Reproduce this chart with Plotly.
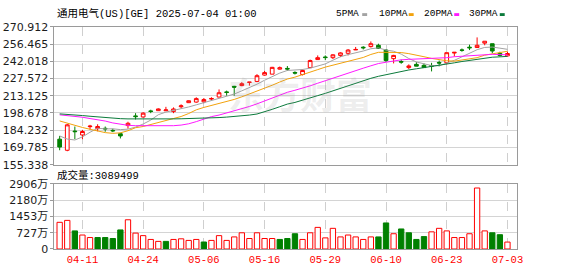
import plotly.graph_objects as go

# ---------------- data ----------------
dates = ["04-08", "04-09", "04-10", "04-11", "04-14", "04-15", "04-16", "04-17", "04-21", "04-22",
         "04-23", "04-24", "04-25", "04-28", "04-29", "04-30", "05-01", "05-02", "05-05", "05-06",
         "05-07", "05-08", "05-09", "05-12", "05-13", "05-14", "05-15", "05-16", "05-19", "05-20",
         "05-21", "05-22", "05-23", "05-27", "05-28", "05-29", "05-30", "06-02", "06-03", "06-04",
         "06-05", "06-06", "06-09", "06-10", "06-11", "06-12", "06-13", "06-16", "06-17", "06-18",
         "06-20", "06-23", "06-24", "06-25", "06-26", "06-27", "06-30", "07-01", "07-02", "07-03"]

opens = [176.7, 167.4, 183.5, 180.2, 187.2, 185.5, 185.8, 184.1, 181.3, 188.1,
         196.2, 195.3, 200.4, 200.6, 200.5, 199.8, 203.9, 207.3, 207.8, 208.0,
         210.3, 212.0, 216.3, 221.0, 221.6, 224.3, 225.1, 230.4, 231.2, 235.4,
         236.0, 232.6, 230.9, 236.7, 243.4, 245.6, 245.0, 246.9, 248.7, 251.5,
         253.8, 254.3, 255.4, 251.4, 244.2, 241.8, 236.7, 239.4, 238.6, 238.4,
         241.0, 240.7, 248.9, 251.5, 253.8, 253.5, 257.2, 256.7, 248.7, 246.5]
highs = [179.4, 189.5, 187.3, 184.5, 188.7, 189.2, 187.3, 185.5, 182.1, 191.3,
         198.5, 199.3, 201.4, 202.5, 203.8, 203.3, 205.9, 209.2, 211.8, 211.2,
         211.8, 218.4, 217.4, 221.4, 224.5, 224.6, 231.2, 233.9, 237.3, 237.6,
         238.0, 233.6, 235.1, 243.4, 246.9, 246.9, 247.9, 249.5, 252.2, 254.0,
         254.6, 258.6, 256.7, 252.2, 247.4, 243.4, 239.4, 241.3, 240.2, 240.7,
         242.6, 249.2, 249.5, 252.7, 255.9, 262.0, 258.8, 256.7, 250.0, 250.0]
lows = [167.4, 166.6, 176.7, 176.7, 184.7, 183.3, 182.9, 182.6, 177.3, 185.5,
        193.2, 194.8, 198.5, 200.3, 200.3, 198.5, 202.5, 207.0, 207.3, 206.8,
        209.4, 211.8, 213.1, 213.1, 221.1, 221.6, 224.5, 229.9, 231.2, 235.0,
        234.0, 230.9, 230.1, 236.7, 243.2, 242.9, 243.9, 245.5, 246.9, 251.4,
        251.9, 253.5, 252.7, 241.3, 240.2, 239.9, 235.4, 237.8, 236.7, 233.5,
        237.8, 239.5, 246.0, 250.0, 251.4, 253.5, 255.4, 248.7, 246.0, 246.0]
closes = [170.1, 188.7, 183.0, 183.1, 187.6, 187.3, 185.3, 183.7, 179.4, 190.0,
          195.6, 198.5, 199.9, 202.0, 201.2, 202.0, 204.6, 208.9, 210.7, 209.9,
          210.8, 215.6, 215.9, 220.3, 223.2, 224.5, 229.9, 232.5, 236.9, 236.6,
          235.5, 232.1, 234.3, 242.6, 245.0, 245.1, 247.4, 249.0, 251.4, 251.9,
          253.3, 256.7, 252.7, 242.6, 246.9, 241.3, 238.1, 237.9, 236.7, 237.9,
          240.5, 249.2, 249.5, 251.2, 253.3, 255.4, 258.8, 250.6, 246.9, 248.5]
prev_close = 166.5  # close of the session before the first bar

ma5 = [179.4, 176.8, 176.0, 178.6, 182.5, 185.9, 185.3, 185.4, 184.7, 185.1,
       186.8, 189.4, 192.7, 197.2, 199.4, 200.7, 201.9, 203.7, 205.5, 207.2,
       209.0, 211.2, 212.6, 214.5, 217.2, 219.9, 222.8, 226.1, 229.4, 232.1,
       234.3, 234.7, 235.1, 236.2, 237.9, 239.8, 242.9, 245.8, 247.6, 249.0,
       250.6, 252.5, 253.2, 251.4, 250.4, 248.0, 244.3, 241.4, 240.2, 238.4,
       238.2, 240.4, 242.8, 245.7, 248.7, 251.7, 253.6, 253.9, 253.0, 252.0]
ma10 = [192.0, 190.0, 188.2, 186.5, 185.0, 183.3, 182.2, 181.6, 182.0, 183.8,
        186.3, 187.3, 189.0, 190.9, 192.3, 193.8, 195.7, 198.2, 201.3, 203.3,
        204.9, 206.6, 208.2, 210.0, 212.2, 214.5, 217.0, 219.3, 221.9, 224.6,
        227.1, 228.7, 230.6, 232.8, 235.0, 237.1, 238.8, 240.5, 242.0, 243.4,
        245.2, 247.7, 249.5, 249.5, 249.7, 249.3, 248.4, 247.3, 245.8, 244.4,
        243.2, 242.4, 242.1, 242.9, 243.6, 245.0, 247.1, 248.3, 249.3, 250.4]
ma20 = [197.1, 196.5, 195.9, 195.1, 194.0, 193.2, 191.9, 190.3, 189.1, 188.3,
        188.0, 187.9, 187.9, 187.9, 187.9, 188.0, 188.5, 189.6, 191.4, 193.5,
        195.6, 196.9, 198.6, 200.4, 202.2, 204.1, 206.3, 208.8, 211.6, 214.0,
        216.0, 217.7, 219.4, 221.4, 223.6, 225.8, 227.9, 229.9, 231.9, 234.0,
        236.2, 238.2, 240.1, 241.2, 242.4, 243.2, 243.6, 243.9, 243.9, 243.9,
        244.2, 245.0, 245.8, 246.2, 246.6, 247.2, 247.7, 247.8, 247.6, 247.4]
ma30 = [197.9, 197.6, 197.1, 196.5, 195.9, 195.3, 194.7, 194.2, 193.9, 193.7,
        193.6, 193.5, 193.5, 193.5, 193.6, 193.7, 193.8, 193.9, 194.0, 194.2,
        194.5, 194.8, 195.2, 195.6, 196.2, 196.9, 197.8, 199.5, 201.7, 203.9,
        206.1, 207.5, 209.2, 211.2, 213.2, 215.1, 217.2, 219.3, 221.7, 223.8,
        225.7, 227.7, 229.4, 230.8, 232.3, 233.6, 234.7, 235.7, 236.6, 237.5,
        238.5, 239.6, 240.7, 241.8, 242.8, 243.8, 244.8, 245.4, 245.7, 246.1]

volume_wan = [1191, 1277, 808, 624, 511, 511, 511, 468, 851, 1305,
              709, 596, 426, 340, 340, 426, 454, 383, 426, 312,
              383, 596, 383, 539, 723, 468, 723, 468, 468, 426,
              468, 681, 426, 723, 965, 496, 922, 539, 624, 539,
              426, 539, 539, 1163, 681, 894, 723, 426, 553, 766,
              922, 808, 511, 511, 681, 2723, 808, 723, 638, 308.9499]

price_ticks = [155.338, 169.785, 184.232, 198.678, 213.125, 227.572, 242.018, 256.465, 270.912]
price_tick_text = ["155.338", "169.785", "184.232", "198.678", "213.125", "227.572", "242.018", "256.465", "270.912"]
vol_ticks = [0, 727, 1453, 2180, 2906]
vol_tick_text = ["0", "727万", "1453万", "2180万", "2906万"]
date_ticks = ["04-11", "04-24", "05-06", "05-16", "05-29", "06-10", "06-23", "07-03"]

title_text = "通用电气(US)[GE] 2025-07-04 01:00"
volume_label = "成交量:3089499"
legend_names = ["5PMA", "10PMA", "20PMA", "30PMA"]

# ---------------- styling ----------------
W, H = 578, 276
RED = "#ff0000"
GREEN = "#008000"
MA_COLORS = ["#a3a3a3", "#f2a20c", "#ff19ff", "#0b7a3b"]
MONO = "Liberation Mono, Noto Sans CJK SC"
SANS = "DejaVu Sans, Noto Sans CJK SC"


def fx(px):
    return px / W


def fy(py):
    return 1 - py / H


x_dom = [fx(55), fx(522.3)]
x_rng = [-0.69, 60.24]

fig = go.Figure()

fig.add_trace(go.Candlestick(
    x=dates, open=opens, high=highs, low=lows, close=closes,
    xaxis="x", yaxis="y", whiskerwidth=0,
    increasing=dict(line=dict(color=RED, width=1), fillcolor="#ffffff"),
    decreasing=dict(line=dict(color=GREEN, width=1), fillcolor=GREEN),
    showlegend=False, hoverinfo="skip"))

for vals, col in zip([ma5, ma10, ma20, ma30], MA_COLORS):
    fig.add_trace(go.Scatter(x=dates, y=vals, mode="lines", xaxis="x", yaxis="y",
                             line=dict(color=col, width=1), showlegend=False, hoverinfo="skip"))

prevs = [prev_close] + closes[:-1]
ups = [c >= p for c, p in zip(closes, prevs)]
fig.add_trace(go.Bar(
    x=dates, y=volume_wan, xaxis="x2", yaxis="y2",
    marker=dict(color=["#ffffff" if u else GREEN for u in ups],
                line=dict(color=[RED if u else GREEN for u in ups], width=1)),
    showlegend=False, hoverinfo="skip"))

axis_common = dict(showline=True, mirror=True, linecolor="#9a9a9a", linewidth=1, zeroline=False)

fig.update_layout(
    width=W, height=H, margin=dict(l=0, r=0, t=0, b=0),
    paper_bgcolor="#ffffff", plot_bgcolor="#ffffff",
    bargap=0.3, showlegend=False,
    xaxis=dict(domain=x_dom, anchor="y", type="category", range=x_rng,
               tickvals=date_ticks, showticklabels=False, ticks="",
               showgrid=True, gridcolor="#cfcfcf", griddash="dash", gridwidth=1,
               rangeslider=dict(visible=False), **axis_common),
    yaxis=dict(domain=[fy(166.5), fy(21.8)], anchor="x", range=[price_ticks[0], price_ticks[-1]],
               tickvals=price_ticks, ticktext=price_tick_text,
               ticks="outside", ticklen=3, tickcolor="#9a9a9a",
               tickfont=dict(family=SANS, size=11, color="#1c1c1c"),
               showgrid=True, gridcolor="#d4d4d4", gridwidth=1, **axis_common),
    xaxis2=dict(domain=x_dom, anchor="y2", type="category", range=x_rng, matches="x",
                tickvals=date_ticks, ticktext=date_ticks, ticks="",
                tickfont=dict(family=MONO, size=10.5, color=RED),
                showgrid=True, gridcolor="#cfcfcf", griddash="dash", gridwidth=1,
                **axis_common),
    yaxis2=dict(domain=[fy(255), fy(186.7)], anchor="x2", range=[0, vol_ticks[-1]],
                tickvals=vol_ticks, ticktext=vol_tick_text,
                ticks="outside", ticklen=3, tickcolor="#9a9a9a",
                tickfont=dict(family=SANS, size=11, color="#1c1c1c"),
                showgrid=True, gridcolor="#d4d4d4", gridwidth=1, **axis_common),
)

annotations = [
    dict(text=title_text, x=fx(56), y=fy(8), xref="paper", yref="paper",
         xanchor="left", yanchor="middle", showarrow=False,
         font=dict(family=MONO, size=10.5, color="#000000")),
    dict(text=volume_label, x=fx(56), y=fy(177.5), xref="paper", yref="paper",
         xanchor="left", yanchor="middle", showarrow=False,
         font=dict(family=MONO, size=10.5, color="#000000")),
    dict(text="东方财富", x=fx(303), y=fy(91), xref="paper", yref="paper",
         xanchor="center", yanchor="middle", showarrow=False,
         font=dict(family="Noto Sans CJK SC", size=36, color="rgba(150,150,150,0.16)", weight="bold")),
]

legend_x = [338, 381, 426, 472]
swatch_x = [366, 413, 459, 505]
shapes = []
for name, lx, sx, col in zip(legend_names, legend_x, swatch_x, MA_COLORS):
    annotations.append(dict(text=name, x=fx(lx), y=fy(8), xref="paper", yref="paper",
                            xanchor="left", yanchor="middle", showarrow=False,
                            font=dict(family=MONO, size=9.5, color="#000000")))
    shapes.append(dict(type="rect", xref="paper", yref="paper",
                       x0=fx(sx), x1=fx(sx + 5), y0=fy(10.5), y1=fy(7.5),
                       fillcolor=col, line=dict(width=0)))

fig.update_layout(annotations=annotations, shapes=shapes)

fig.write_html("out.html")
